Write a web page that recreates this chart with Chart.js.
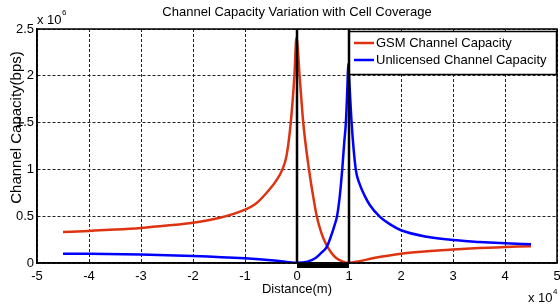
<!DOCTYPE html>
<html>
<head>
<meta charset="utf-8">
<script src="https://cdn.jsdelivr.net/npm/chart.js@4.4.0/dist/chart.umd.min.js"></script>
<style>
html,body{margin:0;padding:0;background:#fff;}
#c{display:block;}
</style>
</head>
<body>
<canvas id="c" width="560" height="306"></canvas>
<script>
// Distance in metres, capacity in bps
const gsmDistance = [-45000,-40000,-35000,-30000,-25000,-20000,-15000,-10000,-8000,-6000,-4000,-2800,-2000,-1200,-500,-100,500,1200,2300,3000,3800,4700,5600,6600,7600,8800,10000,12000,15000,20000,25000,30000,35000,40000,45000];
const gsmCapacity = [330000,343000,357000,375000,400000,430000,480000,570000,630000,740000,880000,1000000,1150000,1500000,2000000,2410000,2000000,1500000,1000000,750000,500000,320000,200000,110000,50000,15000,0,20000,55000,100000,125000,145000,160000,170000,180000];

const unlDistance = [-45000,-40000,-30000,-20000,-10000,-5000,-2000,0,2000,3500,4500,5700,6500,7200,7700,8200,8700,9100,9400,9700,9850,10100,10500,11300,12000,13000,14000,16000,18000,20000,25000,30000,35000,40000,45000];
const unlCapacity = [100000,98000,90000,75000,50000,30000,12000,3000,15000,50000,100000,170000,280000,400000,500000,700000,1000000,1300000,1500000,1900000,2130000,1900000,1500000,1000000,850000,720000,620000,490000,410000,350000,280000,245000,225000,210000,200000];

const markerX = [0, 0, null, 10000, 10000];
const markerY = [0, 2500000, null, 0, 2500000];
const baseBarX = [0, 10000];
const baseBarY = [-28000, -28000];

const seriesNames = ['GSM Channel Capacity', 'Unlicensed Channel Capacity'];
const chartTitle = 'Channel Capacity Variation with Cell Coverage';
const xLabel = 'Distance(m)';
const yLabel = 'Channel Capacity(bps)';

const FONT = '"Liberation Sans", Arial, sans-serif';
const RED = '#dd3311';
const BLUE = '#0000ff';

function pts(xs, ys){ return xs.map((x,i)=>({x:x, y:ys[i]})); }

const annotPlugin = {
  id:'annot',
  afterDraw(chart){
    const ctx = chart.ctx, a = chart.chartArea;
    ctx.save();
    ctx.strokeStyle = '#000'; ctx.lineWidth = 1.5; ctx.setLineDash([]);
    ctx.strokeRect(a.left, a.top, a.right - a.left, a.bottom - a.top);
    ctx.fillStyle = '#000';
    ctx.font = '15px ' + FONT;
    ctx.textAlign = 'center'; ctx.textBaseline = 'middle';
    ctx.translate(17, 127.5); ctx.rotate(-Math.PI/2);
    ctx.fillText(yLabel, 0, 0);
    ctx.setTransform(1,0,0,1,0,0);
    ctx.textAlign = 'left'; ctx.textBaseline = 'alphabetic';
    ctx.font = '13px ' + FONT;
    ctx.fillText('x 10', 37, 24);
    const w1 = ctx.measureText('x 10').width;
    ctx.font = '8px ' + FONT;
    ctx.fillText('6', 37 + w1 + 0.5, 15);
    ctx.font = '13px ' + FONT;
    ctx.fillText('x 10', 528, 302);
    const w2 = ctx.measureText('x 10').width;
    ctx.font = '8px ' + FONT;
    ctx.fillText('4', 528 + w2 + 0.5, 294);
    const lx = 349.5, ly = 31.5, lw = 207, lh = 43;
    ctx.fillStyle = '#fff';
    ctx.fillRect(lx, ly, lw, lh);
    ctx.strokeStyle = '#000'; ctx.lineWidth = 1.5;
    ctx.strokeRect(lx, ly, lw, lh);
    const cols = [RED, BLUE];
    const rows = [43, 60];
    ctx.font = '13px ' + FONT;
    ctx.textBaseline = 'middle';
    for (let i = 0; i < 2; i++) {
      ctx.strokeStyle = cols[i]; ctx.lineWidth = 2.5;
      ctx.beginPath(); ctx.moveTo(354, rows[i]); ctx.lineTo(374, rows[i]); ctx.stroke();
      ctx.fillStyle = '#000';
      ctx.fillText(seriesNames[i], 376, rows[i] + 0.5);
    }
    ctx.restore();
  }
};

new Chart(document.getElementById('c'), {
  type: 'scatter',
  data: {
    datasets: [
      {label: seriesNames[0], data: pts(gsmDistance, gsmCapacity), showLine: true, borderColor: RED, backgroundColor: RED, borderWidth: 2.5, pointRadius: 0, cubicInterpolationMode: 'monotone', order: 2},
      {label: seriesNames[1], data: pts(unlDistance, unlCapacity), showLine: true, borderColor: BLUE, backgroundColor: BLUE, borderWidth: 2.5, pointRadius: 0, cubicInterpolationMode: 'monotone', order: 1},
      {label: 'cell', data: pts(markerX, markerY), showLine: true, spanGaps: false, borderColor: '#000', borderWidth: 2.5, pointRadius: 0, order: 0},
      {label: 'bar', data: pts(baseBarX, baseBarY), showLine: true, borderColor: '#000', borderWidth: 5, pointRadius: 0, clip: false, order: 0}
    ]
  },
  options: {
    responsive: false,
    animation: false,
    devicePixelRatio: 1,
    layout: {padding: {left: 0, right: 0, top: 0, bottom: 0}},
    plugins: {
      legend: {display: false},
      tooltip: {enabled: false},
      title: {display: true, fullSize: false, text: chartTitle, color: '#000', font: {family: FONT, size: 13, weight: 'normal'}, padding: {top: 5, bottom: 8.4}}
    },
    scales: {
      x: {
        type: 'linear', min: -50000, max: 50000,
        afterFit(s){ s.height = 43; s.paddingRight = 3; s.paddingLeft = 0; },
        ticks: {stepSize: 10000, color: '#000', padding: 6, font: {family: FONT, size: 13}, maxRotation: 0, callback: v => String(v / 10000)},
        grid: {color: '#222', lineWidth: 1, drawTicks: false},
        border: {display: true, color: '#000', width: 1.5, dash: [3, 2]},
        title: {display: true, text: xLabel, color: '#000', font: {family: FONT, size: 13}, padding: {top: 0, bottom: 9}}
      },
      y: {
        type: 'linear', min: 0, max: 2500000,
        afterFit(s){ s.width = 37; },
        ticks: {stepSize: 500000, color: '#000', padding: 3, font: {family: FONT, size: 13}, callback: v => String(v / 1000000)},
        grid: {color: '#222', lineWidth: 1, drawTicks: false},
        border: {display: true, color: '#000', width: 1.5, dash: [3, 2]}
      }
    }
  },
  plugins: [annotPlugin]
});
</script>
</body>
</html>
